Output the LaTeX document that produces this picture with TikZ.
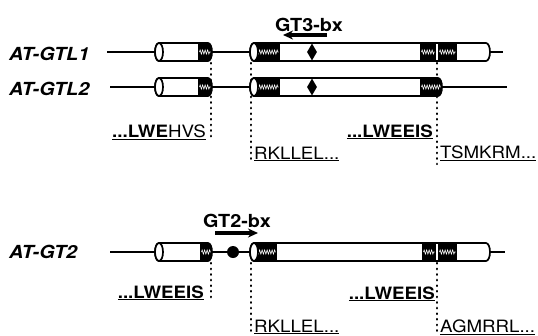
\documentclass[tikz,border=0pt]{standalone}
\usepackage{fontspec}
\setmainfont{TeX Gyre Heros}[FakeStretch=1.1]
\usetikzlibrary{arrows.meta, shapes.geometric, decorations.pathmorphing}

% outline of one exon tube: left x, right x, centre y
\newcommand{\tubepath}[3]{(#1+4,#3+9) -- (#2-4,#3+9)
  arc[start angle=90, end angle=-90, x radius=4, y radius=9]
  -- (#1+4,#3-9)
  arc[start angle=270, end angle=90, x radius=4, y radius=9] -- cycle}

% tube with dark bands: left x, right x, centre y, list of bands a/b
\newcommand{\exontube}[4]{%
  \begin{scope}
    \clip \tubepath{#1}{#2}{#3};
    \fill[white] (#1,#3-10) rectangle (#2,#3+10);
    \foreach \a/\b in {#4} {
      \fill[black] (\a,#3-10) rectangle (\b,#3+10);
      \draw[hatch] (\a+1.5,#3) -- (\b-1.5,#3);
    }
  \end{scope}
  \draw[tube] \tubepath{#1}{#2}{#3};
  \draw[tube, fill=white] (#1+4,#3) ellipse[x radius=4, y radius=9];
}

\begin{document}
\begin{tikzpicture}[
    x=1pt, y=1pt,
    >=Stealth,
    dna/.style={line width=1.7pt},
    tube/.style={line width=1.7pt, line join=round},
    hatch/.style={white, line width=0.6pt, decorate,
                  decoration={zigzag, amplitude=2pt, segment length=2.5pt}},
    guide/.style={line width=2.2pt, line cap=round,
                  dash pattern=on 0.6pt off 5pt},
    gname/.style={font=\fontsize{18}{20}\selectfont\bfseries\itshape,
                  inner sep=0pt},
    seq/.style={font=\fontsize{17}{20}\selectfont, inner sep=0pt},
    bx/.style={font=\fontsize{18}{20}\selectfont\bfseries, inner sep=0pt},
    cys/.style={diamond, fill=black, inner sep=0pt, minimum width=10pt,
                minimum height=17pt},
    bxarrow/.style={line width=3.2pt, -{Stealth[length=10pt, width=9pt]}}
  ]
  \useasboundingbox (0,0) rectangle (538,-335);

  % Gene names
  \node[gname, anchor=base west] (gtl1) at (9,-60) {AT-GTL1};
  \node[gname, anchor=base west] (gtl2) at (9,-95) {AT-GTL2};
  \node[gname, anchor=base west] (gt2) at (9,-258) {AT-GT2};

  % Exon borders
  \draw[guide] (211,-63) -- (211,-138);
  \draw[guide] (251,-63) -- (251,-162);
  \draw[guide] (437,-63) -- (437,-164);
  \draw[guide] (211,-263) -- (211,-300);
  \draw[guide] (251,-263) -- (251,-333);
  \draw[guide] (437,-263) -- (437,-333);

  % AT-GTL1
  \draw[dna] (107,-52) -- (503,-52);
  \exontube{155}{212}{-52}{198/212}
  \exontube{250}{490}{-52}{250/280, 420/436, 438/457}
  \node[cys] (cys1) at (312,-52) {};

  % AT-GTL2
  \draw[dna] (110,-87) -- (507,-87);
  \exontube{155}{212}{-87}{198/212}
  \exontube{250}{442}{-87}{250/280, 420/442}
  \node[cys] (cys2) at (312,-87) {};

  % AT-GT2
  \draw[dna] (110,-252) -- (505,-252);
  \exontube{155}{212}{-252}{200/212}
  \exontube{250}{490}{-252}{250/277, 422/436, 438/457}
  \node[circle, fill=black, inner sep=0pt, minimum size=12pt] (pt) at (233,-252) {};

  % Boxes
  \node[bx, anchor=base] (gt3bx) at (309,-31) {GT3-bx};
  \draw[bxarrow] (327,-35) -- (283,-35);
  \node[bx, anchor=base] (gt2bx) at (237,-227) {GT2-bx};
  \draw[bxarrow] (215,-233) -- (258,-233);

  % Sequences at the exon borders
  \node[seq, anchor=base east] (a1) at (206,-137) {\underline{\textbf{...LWE}HVS}};
  \node[seq, anchor=base west] (b1) at (254,-159) {\underline{RKLLEL...}};
  \node[seq, anchor=base east] (c1) at (433,-137) {\underline{\textbf{...LWEEIS}}};
  \node[seq, anchor=base west] (d1) at (440,-158) {\underline{TSMKRM...}};

  \node[seq, anchor=base east] (a2) at (204,-298) {\underline{\textbf{...LWEEIS}}};
  \node[seq, anchor=base west] (b2) at (254,-332) {\underline{RKLLEL...}};
  \node[seq, anchor=base east] (c2) at (435,-299) {\underline{\textbf{...LWEEIS}}};
  \node[seq, anchor=base west] (d2) at (440,-332) {\underline{AGMRRL...}};
\end{tikzpicture}
\end{document}
